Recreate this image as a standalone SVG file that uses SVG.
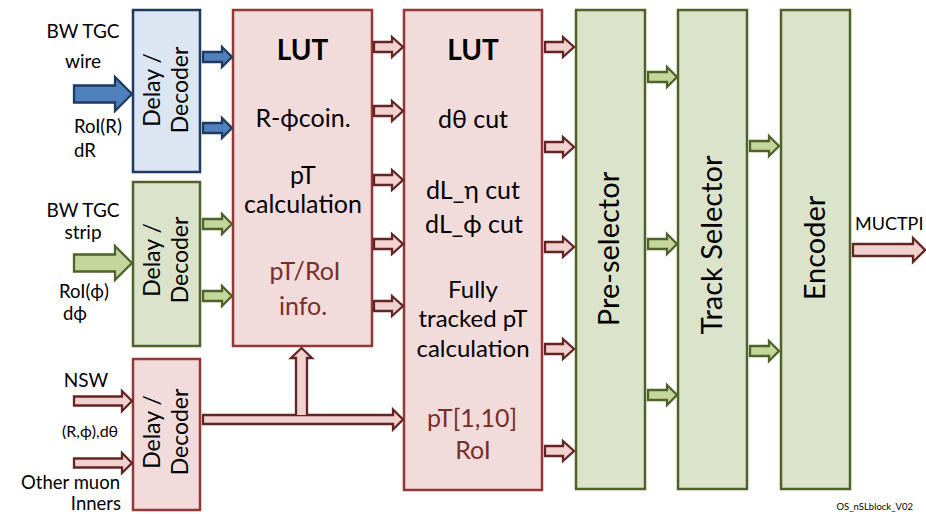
<svg xmlns="http://www.w3.org/2000/svg" width="926" height="514" viewBox="0 0 926 514">
<style>
text{font-family:Lato,"Liberation Sans","DejaVu Sans",sans-serif;fill:#000}
.lbl{font-size:19px}
.lbs{font-size:18.5px}
.dd{font-size:23px;text-anchor:middle}
.body{font-size:25px;text-anchor:middle}
.bsm{font-size:24px;text-anchor:middle}
.lut{font-size:28px;font-weight:bold;text-anchor:middle}
.big{font-size:29px;text-anchor:middle}
.red{fill:#7A2E2C}
.mid{text-anchor:middle}
.end{text-anchor:end}
.pbox{fill:#F2DCDB;stroke:#953735;stroke-width:2.5}
.bbox{fill:#DCE6F2;stroke:#1F3A60;stroke-width:2.5}
.gbox{fill:#DBE3CB;stroke:#4F6228;stroke-width:2.5}
.pa{fill:#F0D2D1;stroke:#632523;stroke-width:2.3;stroke-linejoin:miter}
.ba{fill:#4F81BD;stroke:#1F3A60;stroke-width:2.3;stroke-linejoin:miter}
.ga{fill:#C3D69B;stroke:#4F6228;stroke-width:2.3;stroke-linejoin:miter}
</style>

<g id="input-labels">
<text class="lbl mid" x="83" y="38">BW TGC</text>
<text class="lbl mid" x="83" y="68">wire</text>
<text class="lbs" x="74" y="133">RoI(R)</text>
<text class="lbs" x="74" y="157">dR</text>
<text class="lbl mid" x="83" y="217">BW TGC</text>
<text class="lbl mid" x="83" y="239">strip</text>
<text class="lbs mid" x="84" y="298">RoI(ϕ)</text>
<text class="lbs" x="63" y="320">dϕ</text>
<text class="lbl mid" x="86" y="387">NSW</text>
<text x="62" y="437" style="font-size:16px">(R,ϕ),dθ</text>
<text class="end" x="120" y="489" style="font-size:18.5px">Other muon</text>
<text class="end" x="121" y="510" style="font-size:18.5px">Inners</text>
</g>

<g id="dd-wire">
<rect class="bbox" x="133" y="10" width="67" height="162"/>
<text class="dd" transform="translate(160,90) rotate(-90)">Delay /</text>
<text class="dd" transform="translate(188,90) rotate(-90)">Decoder</text>
</g>

<g id="dd-strip">
<rect class="gbox" x="133" y="182" width="67" height="164"/>
<text class="dd" transform="translate(160,260) rotate(-90)">Delay /</text>
<text class="dd" transform="translate(188,260) rotate(-90)">Decoder</text>
</g>

<g id="dd-nsw">
<rect class="pbox" x="133" y="359" width="67" height="151"/>
<text class="dd" transform="translate(160,432) rotate(-90)">Delay /</text>
<text class="dd" transform="translate(188,432) rotate(-90)">Decoder</text>
</g>

<g id="lut1">
<rect class="pbox" x="233" y="10" width="139" height="336"/>
<text class="lut" x="302.5" y="60">LUT</text>
<text class="body" x="303" y="127">R-ϕcoin.</text>
<text class="body" x="303" y="184">pT</text>
<text class="body" x="303" y="213">calculation</text>
<text class="body red" x="305" y="280">pT/RoI</text>
<text class="body red" x="303" y="315">info.</text>
</g>

<g id="lut2">
<rect class="pbox" x="404" y="10" width="138" height="480"/>
<text class="lut" x="473" y="60">LUT</text>
<text class="body" x="473" y="128">dθ cut</text>
<text class="body" x="473" y="199">dL_η cut</text>
<text class="body" x="474" y="233">dL_ϕ  cut</text>
<text class="bsm" x="473" y="298">Fully</text>
<text class="bsm" x="473" y="327">tracked pT</text>
<text class="bsm" x="473" y="357">calculation</text>
<text class="body red" x="472" y="427">pT[1,10]</text>
<text class="body red" x="473" y="459">RoI</text>
</g>

<g id="pre-selector">
<rect class="gbox" x="576" y="10" width="69" height="479"/>
<text class="big" transform="translate(619,249) rotate(-90)">Pre-selector</text>
</g>

<g id="track-selector">
<rect class="gbox" x="678" y="10" width="69" height="479"/>
<text class="big" transform="translate(722,245) rotate(-90)">Track Selector</text>
</g>

<g id="encoder">
<rect class="gbox" x="781" y="10" width="69" height="479"/>
<text class="big" transform="translate(825,248) rotate(-90)">Encoder</text>
</g>

<g id="output-labels">
<text class="lbl" x="855" y="230" style="font-size:18px">MUCTPI</text>
<text class="end" x="913" y="510" style="font-size:9.5px">OS_nSLblock_V02</text>
</g>

<g id="connectors">
<path class="ba" d="M74,85.5 H115 V77 L132,94 L115,111 V102.5 H74 Z"/>
<path class="ga" d="M74,254.5 H115 V246 L132,263 L115,280 V271.5 H74 Z"/>
<path class="ba" d="M203,52 H222 V47 L232,57 L222,67 V62 H203 Z"/>
<path class="ba" d="M203,123 H222 V118 L232,128 L222,138 V133 H203 Z"/>
<path class="ga" d="M203,219 H222 V214 L232,224 L222,234 V229 H203 Z"/>
<path class="ga" d="M203,291 H222 V286 L232,296 L222,306 V301 H203 Z"/>
<path class="pa" d="M74,396.5 H122 V391 L132,401 L122,411 V405.5 H74 Z"/>
<path class="pa" d="M74,458.5 H122 V453 L132,463 L122,473 V467.5 H74 Z"/>
<path class="pa" d="M203,415 H393 V409.5 L403,419.5 L393,429.5 V424 H203 Z"/>
<path class="pa" d="M296,415 V358 H291 L301.5,348 L312,358 H307 V415"/>
<path class="pa" d="M374,42 H392 V37 L403,47 L392,57 V52 H374 Z"/>
<path class="pa" d="M374,106 H392 V101 L403,111 L392,121 V116 H374 Z"/>
<path class="pa" d="M374,175 H392 V170 L403,180 L392,190 V185 H374 Z"/>
<path class="pa" d="M374,239 H392 V234 L403,244 L392,254 V249 H374 Z"/>
<path class="pa" d="M374,301 H392 V296 L403,306 L392,316 V311 H374 Z"/>
<path class="pa" d="M545,42 H563 V37 L574,47 L563,57 V52 H545 Z"/>
<path class="pa" d="M545,142 H563 V137 L574,147 L563,157 V152 H545 Z"/>
<path class="pa" d="M545,242 H563 V237 L574,247 L563,257 V252 H545 Z"/>
<path class="pa" d="M545,344 H563 V339 L574,349 L563,359 V354 H545 Z"/>
<path class="pa" d="M545,446 H563 V441 L574,451 L563,461 V456 H545 Z"/>
<path class="ga" d="M648,72 H667 V67 L677,77 L667,87 V82 H648 Z"/>
<path class="ga" d="M648,239 H667 V234 L677,244 L667,254 V249 H648 Z"/>
<path class="ga" d="M648,390 H667 V385 L677,395 L667,405 V400 H648 Z"/>
<path class="ga" d="M750,141 H769 V136 L779,146 L769,156 V151 H750 Z"/>
<path class="ga" d="M750,346 H769 V341 L779,351 L769,361 V356 H750 Z"/>
<path class="pa" d="M853,244 H913 V238 L925,250 L913,262 V256 H853 Z"/>
</g>
</svg>
